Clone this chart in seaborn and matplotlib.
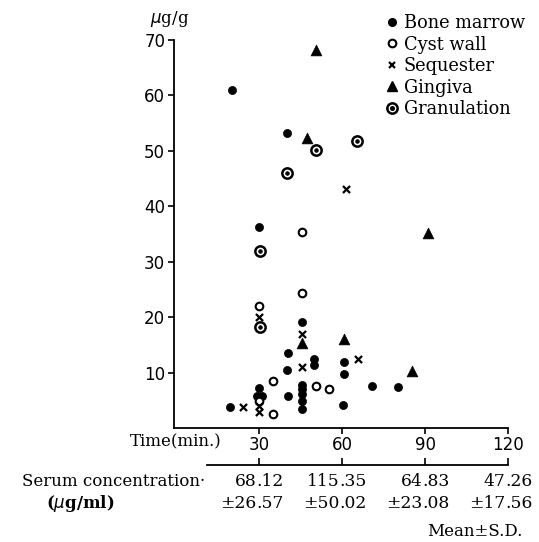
import numpy as np
import pandas as pd
import matplotlib
matplotlib.use("Agg")
import matplotlib.pyplot as plt
import matplotlib.transforms as mtransforms
from matplotlib.lines import Line2D
import seaborn as sns

# values (time in min, concentration in ug/g)
bone_t = [20, 40, 30, 45.4, 40.4, 49.9, 49.9, 60.6, 40.2, 60.6, 45.4, 45.4, 45.4,
          70.7, 80.2, 30, 29, 31, 40.4, 45.4, 45.4, 60.2, 19.4]
bone_v = [61, 53.3, 36.2, 19.2, 13.6, 12.4, 11.3, 11.9, 10.4, 9.7, 7.8, 7.0, 6.1,
          7.6, 7.4, 7.3, 5.8, 5.8, 5.8, 4.9, 3.4, 4.1, 3.7]
cyst_t = [45.5, 45.5, 30, 34.8, 50.4, 55.2, 30, 34.8]
cyst_v = [35.4, 24.4, 22.0, 8.5, 7.6, 7.0, 4.9, 2.5]
seq_t = [61.2, 30, 45.5, 65.8, 45.3, 24.2, 30, 30]
seq_v = [43.2, 20.0, 16.9, 12.4, 11.0, 3.7, 4.0, 2.8]
ging_t = [50.5, 47.3, 91.1, 45.5, 60.6, 85.1]
ging_v = [68.2, 52.4, 35.1, 15.4, 16.1, 10.3]
gran_t = [40.1, 50.5, 65.2, 30.2, 30.2]
gran_v = [46.0, 50.1, 51.8, 31.9, 18.3]

time_ticks = [30, 60, 90, 120]
serum_mean = ["68.12", "115.35", "64.83", "47.26"]
serum_sd = ["\u00b126.57", "\u00b150.02", "\u00b123.08", "\u00b117.56"]

sns.set_style("white")
plt.rcParams['font.family'] = ['DejaVu Serif', 'DejaVu Sans']
plt.rcParams['text.color'] = 'black'
plt.rcParams['xtick.color'] = 'black'
plt.rcParams['ytick.color'] = 'black'
plt.rcParams['axes.labelcolor'] = 'black'

W, H = 539, 542
fig = plt.figure(figsize=(W / 100, H / 100), dpi=100)
ax = fig.add_axes([173.5 / W, 1 - 428 / H, (508.3 - 173.5) / W, (428 - 40) / H])

bone = pd.DataFrame({"t": bone_t, "v": bone_v})
cyst = pd.DataFrame({"t": cyst_t, "v": cyst_v})
seq = pd.DataFrame({"t": seq_t, "v": seq_v})
ging = pd.DataFrame({"t": ging_t, "v": ging_v})
gran = pd.DataFrame({"t": gran_t, "v": gran_v})

sns.scatterplot(data=bone, x="t", y="v", ax=ax, marker="o", s=34, color="black",
                edgecolor="black", linewidth=0.5, zorder=3)
sns.scatterplot(data=cyst, x="t", y="v", ax=ax, marker="o", s=30, facecolor="white",
                edgecolor="black", linewidth=1.5, zorder=4)
sns.scatterplot(data=seq, x="t", y="v", ax=ax, marker="x", s=26, color="black",
                linewidth=1.6, zorder=4)
sns.scatterplot(data=ging, x="t", y="v", ax=ax, marker="^", s=60, color="black",
                edgecolor="black", linewidth=0.5, zorder=4)
sns.scatterplot(data=gran, x="t", y="v", ax=ax, marker="o", s=55, facecolor="white",
                edgecolor="black", linewidth=1.8, zorder=4)
sns.scatterplot(data=gran, x="t", y="v", ax=ax, marker="o", s=7, color="black",
                edgecolor="black", linewidth=0.5, zorder=5)

ax.set_xlim(-1, 120)
ax.set_ylim(0, 70)
ax.set_xlabel("")
ax.set_ylabel("")
ax.set_xticks(time_ticks)
ax.set_yticks([10, 20, 30, 40, 50, 60, 70])
for side in ["top", "right"]:
    ax.spines[side].set_visible(False)
for side in ["left", "bottom"]:
    ax.spines[side].set_color("black")
    ax.spines[side].set_linewidth(1.3)
ax.tick_params(axis="both", direction="out", length=4, width=1.2, color="black",
               labelsize=12, pad=2, bottom=True, left=True)
for lab in ax.get_xticklabels() + ax.get_yticklabels():
    lab.set_family("DejaVu Sans")

fig.text(170 / W, 1 - 19 / H, r"$\mu$g/g", ha="center", va="center", fontsize=12)
fig.text(222 / W, 1 - 442 / H, "Time(min.)", ha="right", va="center", fontsize=12)

# legend
handles = [
    Line2D([], [], ls="none", marker="o", ms=5.5, mfc="black", mec="black"),
    Line2D([], [], ls="none", marker="o", ms=5.5, mfc="white", mec="black", mew=1.5),
    Line2D([], [], ls="none", marker="x", ms=5, mec="black", mew=1.6),
    Line2D([], [], ls="none", marker="^", ms=7.5, mfc="black", mec="black"),
    (Line2D([], [], ls="none", marker="o", ms=7.4, mfc="white", mec="black", mew=1.8),
     Line2D([], [], ls="none", marker="o", ms=2.6, mfc="black", mec="black")),
]
labels = ["Bone marrow", "Cyst wall", "Sequester", "Gingiva", "Granulation"]
fig.legend(handles, labels, loc="upper left", bbox_to_anchor=(386 / W, 1 - 14 / H),
           frameon=False, fontsize=12.8, handlelength=0.7, handletextpad=0.3,
           labelspacing=0.2, borderpad=0, borderaxespad=0)

# serum concentration row
ax2 = fig.add_axes([173.5 / W, 1 - 465 / H, (508.3 - 173.5) / W, 0.0001])
ax2.set_xlim(-1, 120)
ax2.set_yticks([])
ax2.set_xticks(time_ticks)
ax2.tick_params(axis="x", direction="in", length=5, width=1.2, labelbottom=False,
                bottom=True)
for side in ["top", "right", "left"]:
    ax2.spines[side].set_visible(False)
ax2.spines["bottom"].set_bounds(11, 120)
ax2.spines["bottom"].set_linewidth(1.3)
ax2.spines["bottom"].set_color("black")
ax2.patch.set_alpha(0)

# numbers are lined up on the decimal point under each tick
tr = mtransforms.blended_transform_factory(ax.transData, fig.transFigure)
for t, m, sd in zip(time_ticks, serum_mean, serum_sd):
    for txt, ypx in [(m, 482), (sd, 504)]:
        whole, frac = txt.split(".")
        fig.text(t - 1.0, 1 - ypx / H, whole, transform=tr, ha="right", va="center",
                 fontsize=12.3)
        fig.text(t - 1.0, 1 - ypx / H, "." + frac, transform=tr, ha="left", va="center",
                 fontsize=12.3)

fig.text(205 / W, 1 - 482 / H, "Serum concentration\u00b7", ha="right", va="center",
         fontsize=12)
fig.text(80 / W, 1 - 504 / H, r"($\mu$g/ml)", ha="center", va="center", fontsize=12,
         fontweight="bold")
fig.text(522 / W, 1 - 531 / H, "Mean\u00b1S.D.", ha="right", va="center", fontsize=12)

fig.savefig("out.png", dpi=100)
